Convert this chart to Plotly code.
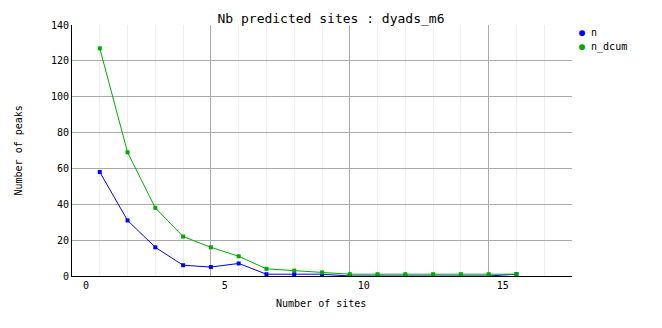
import plotly.graph_objects as go

# Data
sites = [0.5, 1.5, 2.5, 3.5, 4.5, 5.5, 6.5, 7.5, 8.5, 9.5, 10.5, 11.5, 12.5, 13.5, 14.5, 15.5]
n = [58, 31, 16, 6, 5, 7, 1, 1, 1, 0, 0, 0, 0, 0, 0, 1]
n_dcum = [127, 69, 38, 22, 16, 11, 4, 3, 2, 1, 1, 1, 1, 1, 1, 1]
series_names = ["n", "n_dcum"]

x_tick_pos = [-0.5, 4.5, 9.5, 14.5]
x_tick_text = ["0", "5", "10", "15"]

BLUE = "#0000ff"
GREEN = "#00aa00"
FONT = "DejaVu Sans Mono"
colors = [BLUE, GREEN]

fig = go.Figure()
for name, vals, col in zip(series_names, [n, n_dcum], colors):
    fig.add_trace(go.Scatter(x=sites, y=vals, mode="lines+markers", name=name,
                             line=dict(color=col, width=1),
                             marker=dict(symbol="square", size=4, color=col),
                             showlegend=False))

PW, PH = 500, 251
legend_ann = []
for i, (name, col) in enumerate(zip(series_names, colors)):
    ypix = 33 + 14 * i
    legend_ann.append(dict(
        text=f"<span style='color:{col}'>●</span> {name}",
        xref="paper", yref="paper",
        x=(577 - 72) / PW, y=(276 - ypix) / PH,
        xanchor="left", yanchor="middle", showarrow=False,
        font=dict(family=FONT, size=10, color="black")))

fig.update_layout(
    width=662, height=328,
    margin=dict(l=72, r=90, t=25, b=52),
    paper_bgcolor="white", plot_bgcolor="white",
    font=dict(family=FONT, size=10, color="black"),
    title=dict(text="Nb predicted sites : dyads_m6", x=0.5, xanchor="center",
               y=1 - 18 / 328, yanchor="middle",
               font=dict(family=FONT, size=13, color="black")),
    showlegend=False,
    xaxis=dict(range=[-0.5, 17.5], tickmode="array", tickvals=x_tick_pos,
               ticktext=x_tick_text, ticklabelshift=14, ticks="",
               showgrid=True, gridcolor="#aaaaaa", gridwidth=1,
               minor=dict(tickmode="linear", tick0=-0.5, dtick=1, showgrid=True,
                          gridcolor="#eeeeee", gridwidth=1, ticks=""),
               showline=True, linecolor="black", linewidth=1,
               zeroline=False, tickfont=dict(family=FONT, size=10),
               fixedrange=True),
    yaxis=dict(range=[0, 140], dtick=20, tick0=0, ticks="",
               showgrid=True, gridcolor="#aaaaaa", gridwidth=1,
               showline=True, linecolor="black", linewidth=1,
               zeroline=False, tickfont=dict(family=FONT, size=10),
               fixedrange=True),
    annotations=[
        dict(text="Number of sites", xref="paper", yref="paper",
             x=(321 - 72) / PW, y=-(303 - 276) / PH, xanchor="center",
             yanchor="middle", showarrow=False,
             font=dict(family=FONT, size=10)),
        dict(text="Number of peaks", xref="paper", yref="paper",
             x=-(72 - 18) / PW, y=0.5, xanchor="center", yanchor="middle",
             textangle=-90, showarrow=False,
             font=dict(family=FONT, size=10)),
    ] + legend_ann,
)

fig.write_html("out.html")
